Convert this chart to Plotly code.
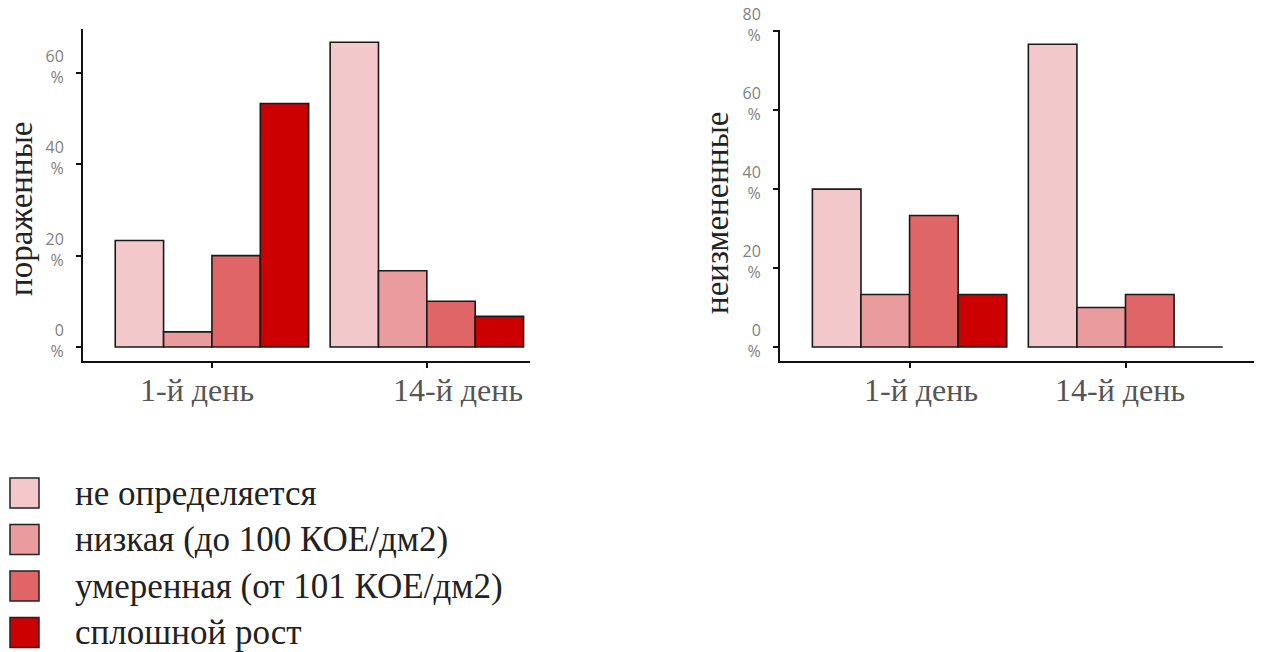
import plotly.graph_objects as go

# Categories and series
days = ["1-й день", "14-й день"]
levels = [
    "не определяется",
    "низкая (до 100 КОЕ/дм2)",
    "умеренная (от 101 КОЕ/дм2)",
    "сплошной рост",
]
colors = ["#F3C8CA", "#EA9B9D", "#E06567", "#CC0000"]

# Percent of samples per contamination level (rows follow `levels`)
affected = [
    [23.3, 66.7],
    [3.3, 16.7],
    [20.0, 10.0],
    [53.3, 6.7],
]
unchanged = [
    [40.0, 76.7],
    [13.3, 10.0],
    [33.3, 13.3],
    [13.3, 0.0],
]

left_ticks = [0, 20, 40, 60]
right_ticks = [0, 20, 40, 60, 80]

W, H = 1262, 652

fig = go.Figure()

for i, name in enumerate(levels):
    for data, xa, ya in ((affected, "x", "y"), (unchanged, "x2", "y2")):
        fig.add_trace(go.Bar(
            x=days, y=data[i], name=name, xaxis=xa, yaxis=ya,
            marker=dict(color=colors[i], line=dict(color="#1a1a1a", width=1.6)),
            showlegend=False, offsetgroup=str(i),
        ))

def px_x(p):
    return p / W

def px_y(p):
    return 1 - p / H

tick_font = dict(family="Open Sans", size=16, color="#808080")

def yaxis_cfg(ticks, rng, top_px):
    return dict(
        domain=[px_y(361), px_y(top_px)], range=rng, showgrid=False, zeroline=False,
        showline=True, linecolor="#111", linewidth=2, automargin=False,
        ticks="outside", ticklen=5, tickcolor="#111", tickwidth=1.5,
        tickvals=ticks, ticktext=[f"{t}<br>%" for t in ticks],
        tickfont=tick_font, ticklabelshift=-6, ticklabelstandoff=9,
        ticklabeloverflow="allow",
    )

def xaxis_cfg(dom, rng, anchor):
    return dict(
        domain=dom, range=rng, anchor=anchor, type="category", automargin=False,
        showgrid=False, zeroline=False, showline=True, linecolor="#111", linewidth=2,
        ticks="outside", ticklen=5, tickcolor="#111", tickwidth=1.5,
        showticklabels=False,
    )

fig.update_layout(
    width=W, height=H, margin=dict(l=0, r=0, t=0, b=0, autoexpand=False),
    paper_bgcolor="white", plot_bgcolor="white",
    barmode="group", bargap=0.1, bargroupgap=0,
    showlegend=False,
    xaxis=xaxis_cfg([px_x(83), px_x(530)], [-0.6, 1.48], "y"),
    yaxis=yaxis_cfg(left_ticks, [-3.07, 69.6], 29),
    xaxis2=xaxis_cfg([px_x(780), px_x(1254)], [-0.6, 1.595], "y2"),
    yaxis2=dict(yaxis_cfg(right_ticks, [-3.54, 80.3], 30), anchor="x2"),
)
fig.layout.xaxis2.anchor = "y2"

serif = "Liberation Serif"
annotations = []

# Day labels under each group
day_shift = {("x", 0): -15, ("x", 1): 31, ("x2", 0): 11, ("x2", 1): -6}
for xa, ya in (("x", "y"), ("x2", "y2")):
    for j, d in enumerate(days):
        annotations.append(dict(
            x=d, xref=xa, y=px_y(390), yref="paper", text=d, showarrow=False,
            xshift=day_shift[(xa, j)], yanchor="middle", xanchor="center",
            font=dict(family=serif, size=32, color="#555555"),
        ))

# Vertical axis titles
for text, cx, cy in (("пораженные", 21, 209), ("неизмененные", 717, 212)):
    annotations.append(dict(
        x=px_x(cx), y=px_y(cy), xref="paper", yref="paper", text=text,
        textangle=-90, showarrow=False, xanchor="center", yanchor="middle",
        font=dict(family=serif, size=33, color="#222222"),
    ))

# Legend: swatch plus label for each level
shapes = []
for i, name in enumerate(levels):
    cy = 493 + 46.5 * i
    shapes.append(dict(
        type="rect", xref="paper", yref="paper",
        x0=px_x(10), x1=px_x(39), y0=px_y(cy - 15), y1=px_y(cy + 15),
        fillcolor=colors[i], line=dict(color="#222", width=1.5),
    ))
    annotations.append(dict(
        x=px_x(73), y=px_y(cy), xref="paper", yref="paper", text=name,
        showarrow=False, xanchor="left", yanchor="middle",
        font=dict(family=serif, size=35, color="#222222"),
    ))

fig.update_layout(annotations=annotations, shapes=shapes)

fig.write_html("out.html")
